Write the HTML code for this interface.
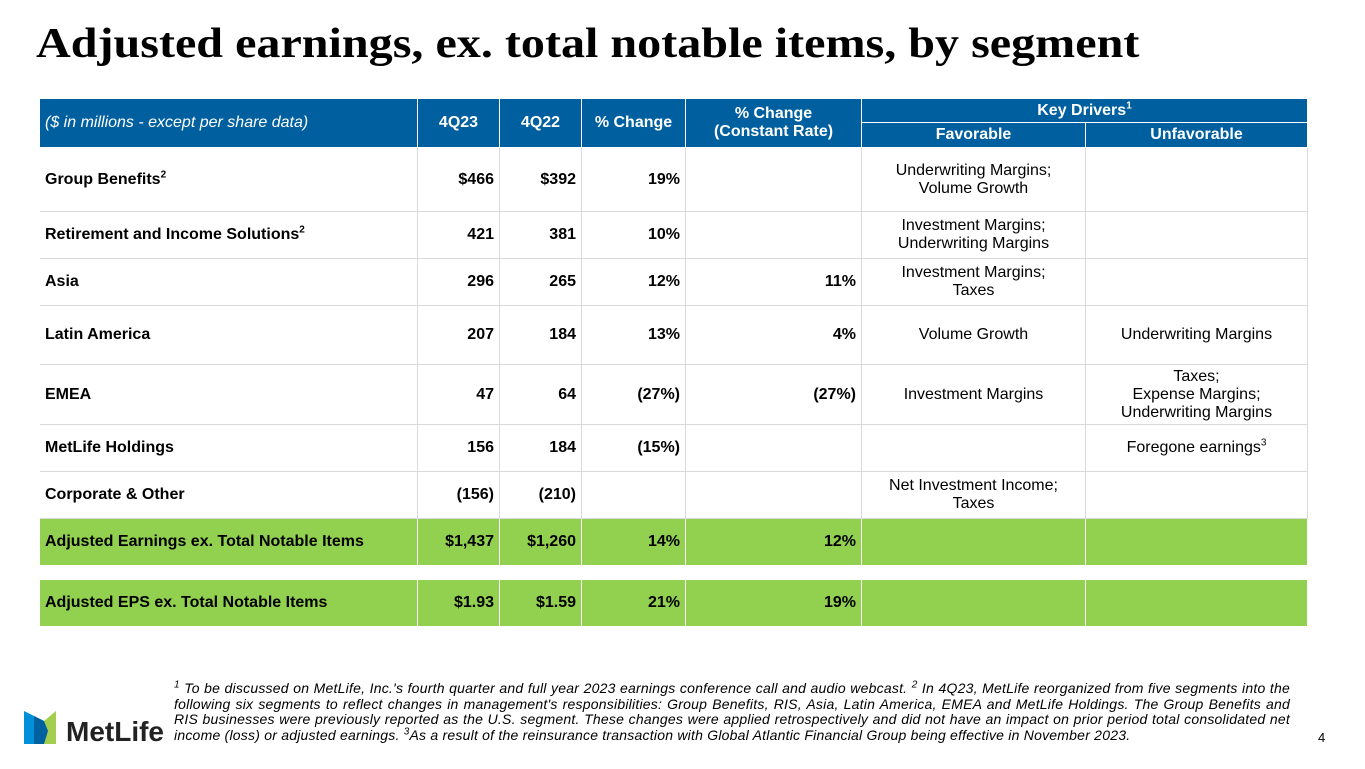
<!DOCTYPE html>
<html><head><meta charset="utf-8"><style>
*{margin:0;padding:0;box-sizing:border-box}
body{width:1365px;height:769px;background:#fff;position:relative;overflow:hidden;font-family:"Liberation Sans",Arial,sans-serif;color:#000}
.t{position:absolute;left:36px;top:20px;font-family:"Liberation Serif",serif;font-weight:bold;font-size:42px;color:#000;transform:scaleX(1.145);transform-origin:left top;white-space:nowrap}
.c{position:absolute;display:flex;align-items:center;font-size:16px;line-height:18px;border-right:1px solid #d9d9d9;border-bottom:1px solid #d9d9d9;padding:0 5px}
.h{background:#00609f;color:#fff;font-weight:bold;border-color:#fff;justify-content:center;text-align:center}
.b{font-weight:bold}
.r{justify-content:flex-end;text-align:right}
.m{justify-content:center;text-align:center}
.g{background:#92d050;font-weight:bold;border-color:#fff}
sup{font-size:10px;line-height:0;vertical-align:super}
.fn{position:absolute;left:174px;top:681px;width:1116px;font-size:14px;letter-spacing:0.22px;line-height:15.5px;font-style:italic;text-align:justify}
</style></head><body>
<div class="t">Adjusted earnings, ex. total notable items, by segment</div>
<div id="tbl"></div>
<div class="fn"><sup>1</sup> To be discussed on MetLife, Inc.'s fourth quarter and full year 2023 earnings conference call and audio webcast. <sup>2</sup> In 4Q23, MetLife reorganized from five segments into the following six segments to reflect changes in management's responsibilities: Group Benefits, RIS, Asia, Latin America, EMEA and MetLife Holdings. The Group Benefits and RIS businesses were previously reported as the U.S. segment. These changes were applied retrospectively and did not have an impact on prior period total consolidated net income (loss) or adjusted earnings. <sup>3</sup>As a result of the reinsurance transaction with Global Atlantic Financial Group being effective in November 2023.</div>
<div style="position:absolute;left:1318px;top:730px;font-size:13px">4</div>
<svg style="position:absolute;left:24px;top:711px" width="145" height="35">
<polygon points="0,0 20,10 20,33 0,33" fill="#0090da"/>
<polygon points="20,10 32,0 32,33 20,33" fill="#a4ce4e"/>
<polygon points="10,5 20,10 24,20 20,33 10,33" fill="#0061a0"/>
<text x="42" y="30" font-family="Liberation Sans,sans-serif" font-weight="bold" font-size="28" fill="#222">MetLife</text>
</svg>
<script>
const xs=[40,418,500,582,686,862,1086,1308];
const labels=["Group Benefits<sup>2</sup>","Retirement and Income Solutions<sup>2</sup>","Asia","Latin America","EMEA","MetLife Holdings","Corporate &amp; Other","Adjusted Earnings ex. Total Notable Items","Adjusted EPS ex. Total Notable Items"];
const q4_23=["$466","421","296","207","47","156","(156)","$1,437","$1.93"];
const q4_22=["$392","381","265","184","64","184","(210)","$1,260","$1.59"];
const pct=["19%","10%","12%","13%","(27%)","(15%)","","14%","21%"];
const pctCR=["","","11%","4%","(27%)","","","12%","19%"];
const fav=["Underwriting Margins;<br>Volume Growth","Investment Margins;<br>Underwriting Margins","Investment Margins;<br>Taxes","Volume Growth","Investment Margins","","Net Investment Income;<br>Taxes","",""];
const unf=["","","","Underwriting Margins","Taxes;<br>Expense Margins;<br>Underwriting Margins","Foregone earnings<sup>3</sup>","","",""];
const ys=[[148,212],[212,259],[259,306],[306,365],[365,425],[425,472],[472,519],[519,566],[580,627]];
const T=document.getElementById('tbl');
function cell(x0,x1,y0,y1,html,cls,name){const d=document.createElement('div');d.className='c '+cls;d.style.left=x0+'px';d.style.top=y0+'px';d.style.width=(x1-x0)+'px';d.style.height=(y1-y0)+'px';d.innerHTML='<span>'+html+'</span>';


T.appendChild(d);return d;}
cell(40,418,99,148,"<i style='font-weight:normal'>($ in millions - except per share data)</i>","h","header-units").style.justifyContent="flex-start";
cell(418,500,99,148,"4Q23","h","header-4q23");
cell(500,582,99,148,"4Q22","h","header-4q22");
cell(582,686,99,148,"% Change","h","header-pct-change");
cell(686,862,99,148,"% Change<br>(Constant Rate)","h","header-pct-change-cr");
cell(862,1308,99,123,"Key Drivers<sup>1</sup>","h","header-key-drivers");
cell(862,1086,123,148,"Favorable","h","header-favorable");
cell(1086,1308,123,148,"Unfavorable","h","header-unfavorable");
for(let i=0;i<labels.length;i++){const [y0,y1]=ys[i];const g=i>=7?' g':'';
cell(xs[0],xs[1],y0,y1,labels[i],'b'+g,'row-label');
cell(xs[1],xs[2],y0,y1,q4_23[i],'b r'+g,'value-4q23');
cell(xs[2],xs[3],y0,y1,q4_22[i],'b r'+g,'value-4q22');
cell(xs[3],xs[4],y0,y1,pct[i],'b r'+g,'value-pct-change');
cell(xs[4],xs[5],y0,y1,pctCR[i],'b r'+g,'value-pct-change-cr');
cell(xs[5],xs[6],y0,y1,fav[i],'m'+g,'favorable-drivers');
cell(xs[6],xs[7],y0,y1,unf[i],'m'+g,'unfavorable-drivers');}
</script>
</body></html>
